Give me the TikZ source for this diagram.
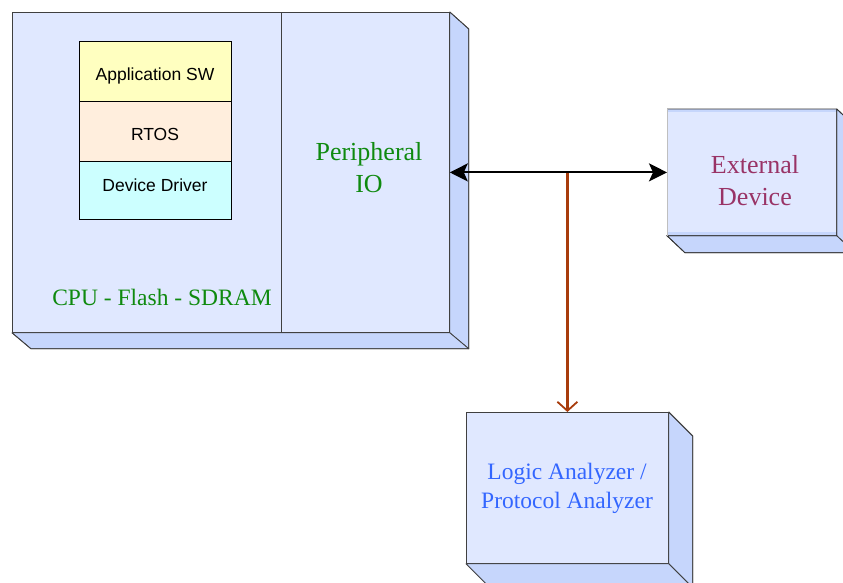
\documentclass[tikz,border=0pt]{standalone}
\usepackage{fontspec}
\setmainfont{Liberation Serif}
\setsansfont{Liberation Sans}
\usetikzlibrary{arrows.meta,calc}
\definecolor{face}{HTML}{E0E8FF}
\definecolor{side}{HTML}{C6D6FC}
\definecolor{appc}{HTML}{FFFFC0}
\definecolor{rtosc}{HTML}{FFEEDD}
\definecolor{ddc}{HTML}{CCFFFF}
\definecolor{grn}{HTML}{0F8A0F}
\definecolor{maroon}{HTML}{993366}
\definecolor{lblue}{HTML}{3366FF}
\definecolor{rust}{HTML}{A83C0C}
\begin{document}
\begin{tikzpicture}[x=1pt,y=-1pt,
  box/.style={rectangle, fill=face, draw=black!75, line width=0.8pt, inner sep=0pt, anchor=north west},
  sideface/.style={fill=side, draw=black!75, line width=0.8pt, line join=round},
  stackbox/.style={rectangle, draw=black, line width=1pt, inner sep=0pt, anchor=north west, minimum width=152pt},
  swtext/.style={font=\sffamily\fontsize{17.5}{20}\selectfont, text=black},
  bigtext/.style={font=\fontsize{26}{32}\selectfont, align=center},
  midtext/.style={font=\fontsize{23.5}{29}\selectfont, align=center},
  bus/.style={line width=2pt, {Stealth[length=18pt,width=18pt,inset=4pt]}-{Stealth[length=18pt,width=18pt,inset=4pt]}},
  tap/.style={line width=2.2pt, draw=rust, -{Straight Barb[length=9pt,width=20pt,line width=1.8pt]}}
]
\useasboundingbox (0,0) rectangle (843,583);
\clip (0,0) rectangle (843,583);

% main CPU box
\node[box, minimum width=437pt, minimum height=320pt] (cpu) at (12,12) {};
\fill[sideface] (cpu.north east) -- ++(19,17) -- ($(cpu.south east)+(19,16)$) -- (cpu.south east) -- cycle;
\fill[sideface] (cpu.south west) -- ++(19,16) -- ($(cpu.south east)+(19,16)$) -- (cpu.south east) -- cycle;
\draw[black!75, line width=0.8pt] (cpu.north east) -- ++(19,17) -- ($(cpu.south east)+(19,16)$) -- ($(cpu.south west)+(19,16)$) -- (cpu.south west);
\node[box, minimum width=168pt, minimum height=320pt] (periph) at (281,12) {};
\node[bigtext, text=grn] (periphlbl) at (369,168) {Peripheral\\IO};
\node[midtext, text=grn] (cpulbl) at (162,297) {CPU - Flash - SDRAM};

% software stack
\node[stackbox, fill=appc, minimum height=60.5pt] (app) at (79,41) {};
\node[stackbox, fill=rtosc, minimum height=59.5pt] (rtos) at (79,101.5) {};
\node[stackbox, fill=ddc, minimum height=58pt] (dd) at (79,161) {};
\node[swtext] (applbl) at (155,76) {Application SW};
\node[swtext] (rtoslbl) at (155,134.5) {RTOS};
\node[swtext] (ddlbl) at (155,185) {Device Driver};

% external device
\node[box, draw=none, minimum width=169pt, minimum height=126pt] (ext) at (667,109) {};
\fill[side] (ext.north west) rectangle ($(ext.north east)+(0,3)$);
\fill[side] ($(ext.south west)+(0,-4)$) rectangle (ext.south east);
\fill[sideface] (ext.north east) -- ++(18,17) -- ($(ext.south east)+(18,17)$) -- (ext.south east) -- cycle;
\fill[sideface] (ext.south west) -- ++(18,17) -- ($(ext.south east)+(18,17)$) -- (ext.south east) -- cycle;
\draw[black!80, line width=0.8pt] (ext.north west) -- (ext.north east) -- ++(18,17) -- ($(ext.south east)+(18,17)$) -- ($(ext.south west)+(18,17)$) -- (ext.south west) -- (ext.south east) -- (ext.north east);
\draw[black!25, line width=0.8pt] (ext.north west) -- (ext.south west);
\node[bigtext, text=maroon] (extlbl) at (755,181) {External\\Device};

% logic analyzer
\node[box, minimum width=202pt, minimum height=151pt] (logic) at (466,412) {};
\fill[sideface] (logic.north east) -- ++(24,24) -- ($(logic.south east)+(24,24)$) -- (logic.south east) -- cycle;
\fill[sideface] (logic.south west) -- ++(24,24) -- ($(logic.south east)+(24,24)$) -- (logic.south east) -- cycle;
\draw[black!75, line width=0.8pt] (logic.north east) -- ++(24,24) -- ($(logic.south east)+(24,24)$);
\node[midtext, text=lblue] (logiclbl) at (567,488) {Logic Analyzer /\\Protocol Analyzer};

% connectors
\coordinate (junc) at (logic.north |- periph.east);
\draw[tap] (junc) -- (logic.north);
\draw[bus] (periph.east) -- (ext.west);
\end{tikzpicture}
\end{document}
